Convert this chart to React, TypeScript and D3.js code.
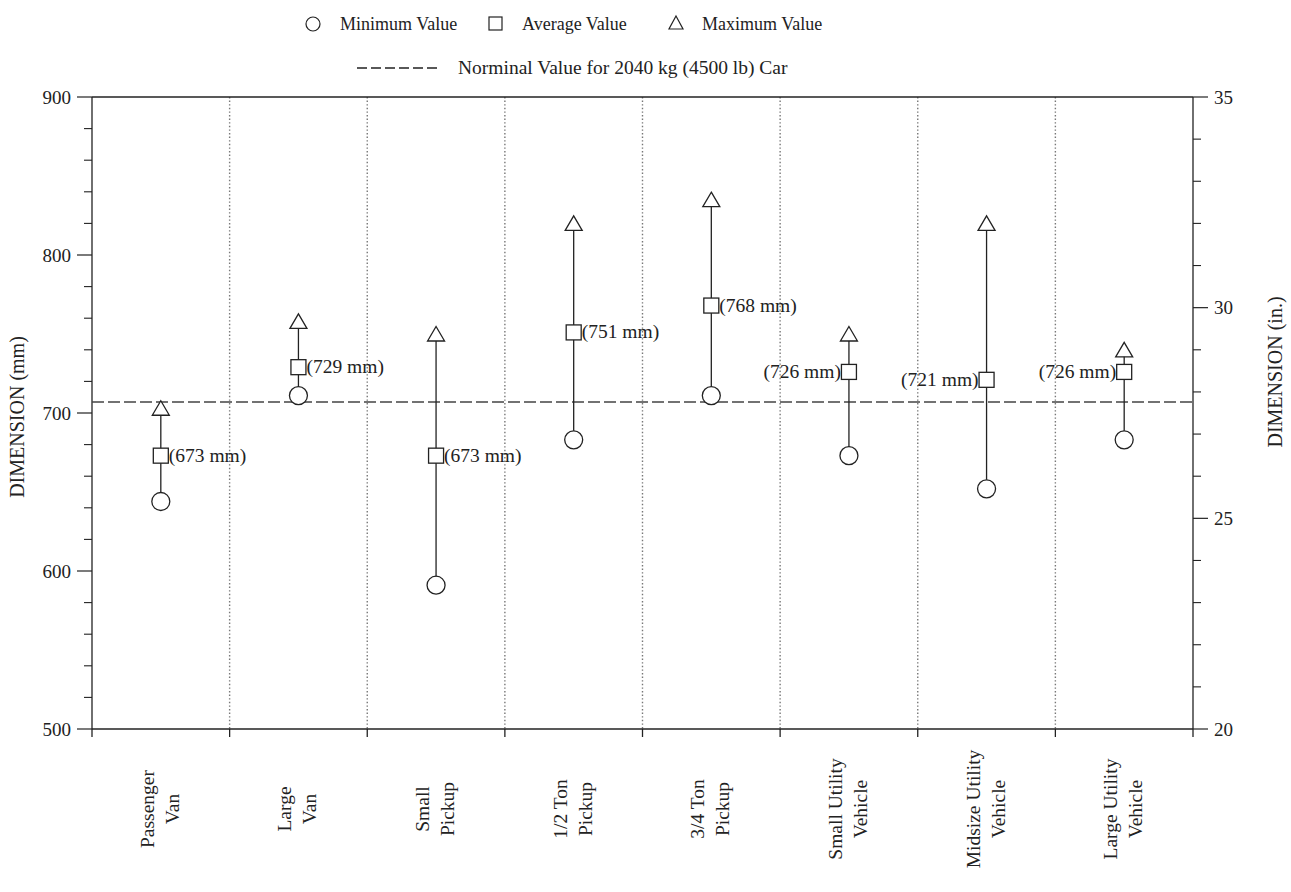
import React from "react";
import * as d3 from "d3";

const categories = [
  ["Passenger", "Van"],
  ["Large", "Van"],
  ["Small", "Pickup"],
  ["1/2 Ton", "Pickup"],
  ["3/4 Ton", "Pickup"],
  ["Small Utility", "Vehicle"],
  ["Midsize Utility", "Vehicle"],
  ["Large Utility", "Vehicle"],
];
const minValues = [644, 711, 591, 683, 711, 673, 652, 683];
const avgValues = [673, 729, 673, 751, 768, 726, 721, 726];
const maxValues = [703, 758, 750, 820, 835, 750, 820, 740];
const labelSide = ["right", "right", "right", "right", "right", "left", "left", "left"];
const nominalValue = 707;
const mmTicks = [500, 600, 700, 800, 900];
const inTicks = [20, 25, 30, 35];

const W = 1291;
const H = 892;
const L = 92;
const R = 1193;
const T = 97;
const B = 729;
const FONT = "'Liberation Serif', 'Times New Roman', serif";
const INK = "#222";

export default function App() {
  const keys = categories.map((c) => c.join(" "));
  const x = d3.scaleBand<string>().domain(keys).range([L, R]);
  const y = d3.scaleLinear().domain([500, 900]).range([B, T]);
  const yIn = d3.scaleLinear().domain([20, 35]).range([B, T]);
  const mmMinor = d3.range(500, 901, 20).filter((v) => v % 100 !== 0);
  const inMinor = d3.range(20, 35.01, 1).filter((v) => v % 5 !== 0);
  const seps = keys.slice(1).map((k) => x(k) as number);
  const tri = (cx: number, cy: number) =>
    `M${cx},${cy - 7.5}L${cx + 8.5},${cy + 7}L${cx - 8.5},${cy + 7}Z`;

  return (
    <svg width={W} height={H} style={{ display: "block", position: "absolute", left: 0, top: 0, background: "#fff" }} fontFamily={FONT}>
      <rect width={W} height={H} fill="#fff" />
      {/* Legend */}
      <g fontSize={18} fill={INK}>
        <circle cx={313} cy={24} r={7} fill="none" stroke={INK} strokeWidth={1.2} />
        <text x={340} y={30}>Minimum Value</text>
        <rect x={489} y={17} width={13} height={13} fill="none" stroke={INK} strokeWidth={1.2} />
        <text x={522} y={30}>Average Value</text>
        <path d={`M676,16L683,29L669,29Z`} fill="none" stroke={INK} strokeWidth={1.2} />
        <text x={702} y={30}>Maximum Value</text>
        <line x1={357} x2={440} y1={68} y2={68} stroke={INK} strokeWidth={1.3} strokeDasharray="10,4" />
        <text x={458} y={74} fontSize={19.5}>Norminal Value for 2040 kg (4500 lb) Car</text>
      </g>

      {/* Gridlines */}
      {seps.map((sx, i) => (
        <line key={"g" + i} x1={sx} x2={sx} y1={T} y2={B} stroke="#777" strokeWidth={1.4} strokeDasharray="1.4,2.2" />
      ))}

      {/* Frame */}
      <line x1={L} x2={R} y1={T} y2={T} stroke={INK} strokeWidth={1.3} />
      <line x1={L} x2={R} y1={B} y2={B} stroke={INK} strokeWidth={1.3} />
      <line x1={L} x2={L} y1={T} y2={B + 8} stroke={INK} strokeWidth={1.3} />
      <line x1={R} x2={R} y1={T} y2={B + 8} stroke={INK} strokeWidth={1.3} />
      {seps.map((sx, i) => (
        <line key={"xt" + i} x1={sx} x2={sx} y1={B} y2={B + 8} stroke={INK} strokeWidth={1.3} />
      ))}

      {/* Left axis ticks */}
      {mmTicks.map((v) => (
        <g key={"lm" + v}>
          <line x1={L - 15} x2={L} y1={y(v)} y2={y(v)} stroke={INK} strokeWidth={1.2} />
          <text x={71} y={y(v) + 6.5} textAnchor="end" fontSize={19} fill={INK}>{v}</text>
        </g>
      ))}
      {mmMinor.map((v) => (
        <line key={"ln" + v} x1={L - 8} x2={L} y1={y(v)} y2={y(v)} stroke={INK} strokeWidth={1.1} />
      ))}

      {/* Right axis ticks */}
      {inTicks.map((v) => (
        <g key={"rm" + v}>
          <line x1={R} x2={R + 15} y1={yIn(v)} y2={yIn(v)} stroke={INK} strokeWidth={1.2} />
          <text x={1214} y={yIn(v) + 6.5} fontSize={19} fill={INK}>{v}</text>
        </g>
      ))}
      {inMinor.map((v) => (
        <line key={"rn" + v} x1={R} x2={R + 8} y1={yIn(v)} y2={yIn(v)} stroke={INK} strokeWidth={1.1} />
      ))}

      {/* Axis titles */}
      <text transform={`translate(24,417) rotate(-90)`} textAnchor="middle" fontSize={20} fill={INK}>DIMENSION (mm)</text>
      <text transform={`translate(1282,372) rotate(-90)`} textAnchor="middle" fontSize={20} fill={INK}>DIMENSION (in.)</text>

      {/* Nominal line */}
      <line x1={L} x2={R} y1={y(nominalValue)} y2={y(nominalValue)} stroke="#444" strokeWidth={1.4} strokeDasharray="12,4" />

      {/* Data */}
      {keys.map((k, i) => {
        const cx = (x(k) as number) + x.bandwidth() / 2;
        const yMin = y(minValues[i]);
        const yAvg = y(avgValues[i]);
        const yMax = y(maxValues[i]);
        const right = labelSide[i] === "right";
        return (
          <g key={"d" + i}>
            <line x1={cx} x2={cx} y1={yMax} y2={yMin} stroke={INK} strokeWidth={1.3} />
            <circle cx={cx} cy={yMin} r={9} fill="#fff" stroke={INK} strokeWidth={1.3} />
            <rect x={cx - 7.5} y={yAvg - 7.5} width={15} height={15} fill="#fff" stroke={INK} strokeWidth={1.3} />
            <path d={tri(cx, yMax)} fill="#fff" stroke={INK} strokeWidth={1.3} />
            <text
              x={right ? cx + 8 : cx - 8}
              y={yAvg + 6}
              textAnchor={right ? "start" : "end"}
              fontSize={19.5}
              fill={INK}
            >
              {`(${avgValues[i]} mm)`}
            </text>
          </g>
        );
      })}

      {/* Category labels */}
      {keys.map((k, i) => {
        const cx = (x(k) as number) + x.bandwidth() / 2;
        return (
          <g key={"c" + i} transform={`translate(${cx},809) rotate(-90)`} fontSize={19.5} fill={INK} textAnchor="middle">
            <text x={0} y={-7}>{categories[i][0]}</text>
            <text x={0} y={18}>{categories[i][1]}</text>
          </g>
        );
      })}
    </svg>
  );
}
